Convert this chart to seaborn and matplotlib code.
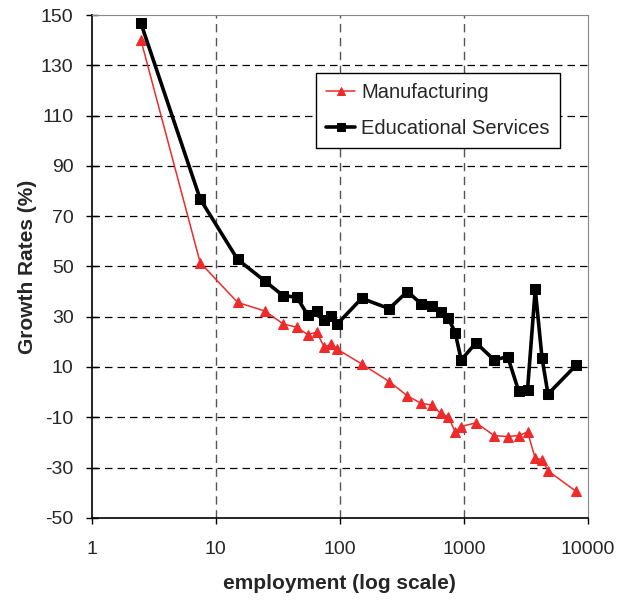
import numpy as np
import pandas as pd
import matplotlib
matplotlib.use("Agg")
import matplotlib.pyplot as plt
import seaborn as sns

# --------------------------- DATA ---------------------------
employment = [2.5, 7.5, 15, 25, 35, 45, 55, 65, 75, 85, 95, 150, 250, 350, 450,
              550, 650, 750, 850, 950, 1250, 1750, 2250, 2750, 3250, 3750, 4250,
              4750, 8000]
manufacturing = [140, 51.5, 35.7, 32.2, 27.1, 25.8, 22.9, 23.8, 17.9, 19.1, 17.1,
                 11.2, 4.2, -1.5, -4.4, -5.2, -8.5, -9.9, -15.8, -13.7, -12.2,
                 -17.3, -17.7, -17.3, -15.9, -26.3, -26.9, -31.3, -39.5]
educational = [146.7, 76.8, 52.8, 44.1, 38.3, 37.8, 30.7, 32.3, 28.6, 30.3, 27.0,
               37.3, 33.2, 40.0, 35.2, 34.3, 31.7, 29.3, 23.6, 12.8, 19.6, 12.8,
               14.1, 0.6, 0.9, 40.9, 13.7, -0.8, 10.7]

y_ticks = [-50, -30, -10, 10, 30, 50, 70, 90, 110, 130, 150]
x_ticks = [1, 10, 100, 1000, 10000]

df = pd.DataFrame({"employment": employment,
                   "Manufacturing": manufacturing,
                   "Educational Services": educational})

# --------------------------- PLOT ---------------------------
sns.set_style("white")
plt.rcParams["font.family"] = ["Liberation Sans", "DejaVu Sans"]
plt.rcParams["axes.unicode_minus"] = False

fig, ax = plt.subplots(figsize=(6.27, 6.0), dpi=100)
fig.subplots_adjust(left=0.146, right=0.938, top=0.975, bottom=0.137)

red = "#ee2a2a"
sns.lineplot(data=df, x="employment", y="Manufacturing", ax=ax, color=red,
             linewidth=1.1, marker="^", markersize=6.5, markeredgecolor=red,
             label="Manufacturing", zorder=3)
sns.lineplot(data=df, x="employment", y="Educational Services", ax=ax,
             color="black", linewidth=2.6, marker="s", markersize=6.5,
             markeredgecolor="black", label="Educational Services", zorder=4)

ax.set_xscale("log")
ax.set_xlim(1, 10000)
ax.set_ylim(-50, 150)
ax.set_xticks(x_ticks)
ax.set_xticklabels([str(t) for t in x_ticks])
ax.set_yticks(y_ticks)
ax.minorticks_off()
ax.tick_params(axis="y", labelsize=14, direction="inout", length=8,
               width=1, color="black", left=True, pad=9)
ax.tick_params(axis="x", labelsize=14, direction="out", length=4.5,
               width=1, color="black", bottom=True, pad=12)

for y in y_ticks[1:-1]:
    ax.axhline(y, color="black", linestyle=(0, (6, 4)), linewidth=0.9, zorder=1)
for x in x_ticks[1:-1]:
    ax.axvline(x, color="#555555", linestyle=(0, (6, 4)), linewidth=1.0, zorder=1)

ax.spines["left"].set_color("black")
ax.spines["bottom"].set_color("black")
ax.spines["left"].set_linewidth(1.2)
ax.spines["bottom"].set_linewidth(1.2)
ax.spines["top"].set_color("#888888")
ax.spines["right"].set_color("#888888")

ax.set_xlabel("employment (log scale)", fontsize=15, fontweight="bold", labelpad=12)
ax.set_ylabel("Growth Rates (%)", fontsize=15, fontweight="bold", labelpad=2.5)

leg = ax.legend(loc="upper left", bbox_to_anchor=(0.452, 0.885), fontsize=14.5,
                frameon=True, fancybox=False, edgecolor="black", framealpha=1,
                borderpad=0.5, labelspacing=0.85, handlelength=1.45,
                handletextpad=0.3, borderaxespad=0, markerscale=0.8)
leg.get_frame().set_linewidth(1.0)

fig.savefig("out.png", dpi=100)
